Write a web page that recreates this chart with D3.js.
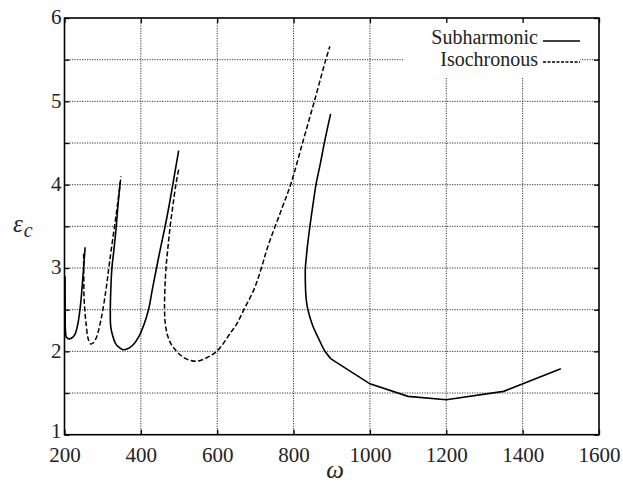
<!DOCTYPE html>
<html>
<head>
<meta charset="utf-8">
<script src="https://cdn.jsdelivr.net/npm/d3@7"></script>
<style>
  body { margin: 0; background: #fff; }
  svg { display: block; }
</style>
</head>
<body>
<div class="content-container"></div>
<script>

// DATA  ([omega, eps_c] pairs)
const xTicks = [200, 400, 600, 800, 1000, 1200, 1400, 1600];
const yTicks = [1, 1.5, 2, 2.5, 3, 3.5, 4, 4.5, 5, 5.5, 6];
const legendNames = ["Subharmonic", "Isochronous"];

const sub1 = [[201.5, 2.90], [201.8, 2.5], [202.5, 2.25], [205, 2.17], [213, 2.15], [222, 2.17],
  [228, 2.21], [235, 2.33], [242, 2.56], [248, 2.88], [254, 3.25]];
const iso1 = [[250, 3.17], [250.5, 2.9], [251, 2.67], [254, 2.45], [257, 2.31], [262, 2.15],
  [268, 2.09], [275, 2.10], [283, 2.16], [296, 2.39], [309, 2.75], [318, 3.07], [331, 3.50],
  [340, 3.80], [348, 4.10]];
const sub2 = [[346, 4.03], [340, 3.75], [335, 3.47], [329, 3.2], [324, 2.99], [321, 2.7],
  [320, 2.47], [321, 2.3], [326, 2.19], [333, 2.10], [342, 2.05], [353, 2.02], [365, 2.03],
  [380, 2.08], [395, 2.18], [408, 2.32], [420, 2.50], [430, 2.74], [441, 3.0], [452, 3.25],
  [464, 3.51], [474, 3.75], [484, 4.01], [499, 4.41]];
const iso2 = [[499, 4.18], [492, 4.01], [484, 3.75], [477, 3.51], [471, 3.25], [466, 3.01],
  [463, 2.75], [462, 2.51], [464, 2.33], [470, 2.19], [480, 2.08], [492, 2.01], [505, 1.95],
  [519, 1.91], [545, 1.88], [575, 1.93], [601, 2.01], [636, 2.23], [650, 2.32], [671, 2.51],
  [697, 2.75], [715, 2.99], [732, 3.25], [769, 3.71], [793, 4.01], [824, 4.51], [855, 5.01],
  [885, 5.51], [895, 5.66]];
const sub3 = [[897, 4.85], [881, 4.51], [870, 4.25], [859, 4.01], [853, 3.83], [843, 3.51],
  [836, 3.25], [833, 3.11], [831, 3.01], [831, 2.8], [833, 2.63], [837, 2.51], [850, 2.31],
  [866, 2.15], [881, 2.01], [898, 1.91]];
const sub3Tail = [[898, 1.91], [1000, 1.61], [1100, 1.46], [1200, 1.42], [1350, 1.52], [1500, 1.79]];

const subharmonic = [sub1, sub2, sub3];
const isochronous = [iso1, iso2];

// LAYOUT
const width = 623;
const height = 488;
const padLeft = 64.5, padRight = 599, padTop = 18, padBottom = 434.7;
const serif = "'Liberation Serif', 'Times New Roman', serif";

const xScale = d3.scaleLinear().domain([200, 1600]).range([padLeft, padRight]);
const yScale = d3.scaleLinear().domain([1, 6]).range([padBottom, padTop]);

const svg = d3.select(".content-container")
  .append("svg")
  .attr("width", width)
  .attr("height", height);

// GRID (dotted)
const grid = svg.append("g")
  .attr("stroke", "#333")
  .attr("stroke-width", 1)
  .attr("stroke-dasharray", "1.2,1.3");

grid.selectAll(".gx")
  .data(xTicks.slice(1, -1))
  .enter().append("line")
  .attr("x1", d => xScale(d)).attr("x2", d => xScale(d))
  .attr("y1", padTop).attr("y2", padBottom);

grid.selectAll(".gy")
  .data(yTicks.slice(1, -1))
  .enter().append("line")
  .attr("x1", padLeft).attr("x2", padRight)
  .attr("y1", d => yScale(d)).attr("y2", d => yScale(d));

// legend background hides the grid under it
svg.append("rect")
  .attr("x", 403).attr("y", padTop + 1)
  .attr("width", 177).attr("height", 58)
  .attr("fill", "#fff");

// AXES (inward ticks on all four sides)
const tickLen = 5;
const fmtY = d => Number.isInteger(d) ? d : "";

svg.append("g")
  .attr("transform", "translate(0," + padBottom + ")")
  .call(d3.axisBottom(xScale).tickValues(xTicks).tickSize(-tickLen).tickPadding(12)
    .tickFormat(d3.format("d")).tickSizeOuter(0));

svg.append("g")
  .attr("transform", "translate(0," + padTop + ")")
  .call(d3.axisTop(xScale).tickValues(xTicks).tickSize(-tickLen).tickFormat("").tickSizeOuter(0));

svg.append("g")
  .attr("class", "y-axis")
  .attr("transform", "translate(" + padLeft + ",0)")
  .call(d3.axisLeft(yScale).tickValues(yTicks).tickSize(-tickLen).tickPadding(3)
    .tickFormat(fmtY).tickSizeOuter(0));

svg.append("g")
  .attr("transform", "translate(" + padRight + ",0)")
  .call(d3.axisRight(yScale).tickValues(yTicks).tickSize(-tickLen).tickFormat("").tickSizeOuter(0));

svg.selectAll(".domain").remove();
svg.selectAll(".tick line").attr("stroke", "#000").attr("stroke-width", 1.3);
svg.selectAll(".tick text")
  .attr("fill", "#222")
  .style("font-family", serif)
  .style("font-size", "21px");
// the bottom "1" sits a little above its tick in the original
svg.selectAll(".y-axis .tick text").attr("dy", d => d === 1 ? "0.12em" : "0.27em");

// frame
svg.append("rect")
  .attr("x", padLeft).attr("y", padTop)
  .attr("width", padRight - padLeft).attr("height", padBottom - padTop)
  .attr("fill", "none")
  .attr("stroke", "#000")
  .attr("stroke-width", 1.6);

// CURVES
const smooth = d3.line()
  .x(d => xScale(d[0]))
  .y(d => yScale(d[1]))
  .curve(d3.curveCatmullRom.alpha(0.5));

const straight = d3.line()
  .x(d => xScale(d[0]))
  .y(d => yScale(d[1]));

svg.selectAll(".sub")
  .data(subharmonic)
  .enter().append("path")
  .attr("d", smooth)
  .attr("fill", "none")
  .attr("stroke", "#000")
  .attr("stroke-width", 1.6);

svg.append("path")
  .attr("d", straight(sub3Tail))
  .attr("fill", "none")
  .attr("stroke", "#000")
  .attr("stroke-width", 1.6);

svg.selectAll(".iso")
  .data(isochronous)
  .enter().append("path")
  .attr("d", smooth)
  .attr("fill", "none")
  .attr("stroke", "#000")
  .attr("stroke-width", 1.5)
  .attr("stroke-dasharray", "5,2.5");

// LEGEND
const legend = svg.append("g");
legendNames.forEach(function (name, i) {
  legend.append("text")
    .attr("x", 538).attr("y", 44 + i * 22)
    .attr("text-anchor", "end")
    .style("font-family", serif)
    .style("font-size", "20px")
    .attr("fill", "#222")
    .text(name);
  legend.append("line")
    .attr("x1", 543).attr("x2", 580)
    .attr("y1", 41 + i * 21).attr("y2", 41 + i * 21)
    .attr("stroke", "#000")
    .attr("stroke-width", 1.3)
    .attr("stroke-dasharray", i === 0 ? null : "3,1.5");
});

// AXIS TITLES
svg.append("text")
  .attr("x", 335).attr("y", 478)
  .attr("text-anchor", "middle")
  .style("font-family", serif)
  .style("font-style", "italic")
  .style("font-size", "25px")
  .attr("fill", "#222")
  .text("ω");

const yLabel = svg.append("text")
  .attr("x", 13).attr("y", 232)
  .style("font-family", serif)
  .style("font-style", "italic")
  .style("font-size", "25px")
  .attr("fill", "#222");
yLabel.append("tspan").text("ε");
yLabel.append("tspan")
  .attr("dy", 5)
  .attr("dx", 1)
  .style("font-size", "20px")
  .text("c");

</script>
</body>
</html>
